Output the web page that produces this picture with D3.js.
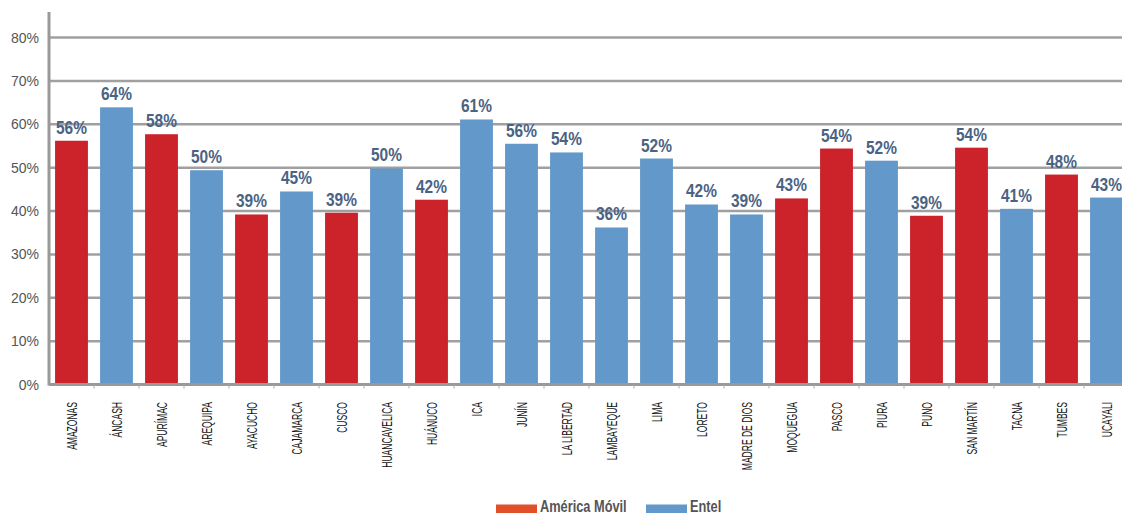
<!DOCTYPE html>
<html>
<head>
<meta charset="utf-8">
<script src="https://cdn.jsdelivr.net/npm/d3@7"></script>
<style>
	body { margin: 0; background: #fff; }
	svg { display: block; }
</style>
</head>
<body>
<svg id="chart" width="1122" height="514"></svg>
<script>
'use strict';

const regions = ['AMAZONAS', 'ÁNCASH', 'APURÍMAC', 'AREQUIPA', 'AYACUCHO', 'CAJAMARCA', 'CUSCO',
	'HUANCAVELICA', 'HUÁNUCO', 'ICA', 'JUNÍN', 'LA LIBERTAD', 'LAMBAYEQUE', 'LIMA', 'LORETO',
	'MADRE DE DIOS', 'MOQUEGUA', 'PASCO', 'PIURA', 'PUNO', 'SAN MARTÍN', 'TACNA', 'TUMBES', 'UCAYALI'];
const values = [56.2, 63.9, 57.7, 49.4, 39.2, 44.5, 39.6, 49.8, 42.6, 61.1, 55.5, 53.5, 36.2, 52.1,
	41.5, 39.2, 42.9, 54.4, 51.6, 38.9, 54.6, 40.5, 48.4, 43.1];
const labels = ['56%', '64%', '58%', '50%', '39%', '45%', '39%', '50%', '42%', '61%', '56%', '54%',
	'36%', '52%', '42%', '39%', '43%', '54%', '52%', '39%', '54%', '41%', '48%', '43%'];
const operators = ['A', 'E', 'A', 'E', 'A', 'E', 'A', 'E', 'A', 'E', 'E', 'E', 'E', 'E', 'E', 'E',
	'A', 'A', 'E', 'A', 'A', 'E', 'A', 'E'];
const legendNames = ['América Móvil', 'Entel'];
const yTicks = [0, 10, 20, 30, 40, 50, 60, 70, 80];

const barColour = { A: '#cc2229', E: '#6398ca' };
const legendColour = ['#e0502a', '#6398ca'];
const font = "'Liberation Sans', Arial, sans-serif";

const svg = d3.select('#chart');
const plotLeft = 49;
const plotRight = 1129;
const plotTop = 12;
const plotBottom = 384.5;

const x = d3.scaleBand()
	.domain(regions)
	.range([plotLeft, plotRight])
	.paddingInner(0.27)
	.paddingOuter(0.135);

const y = d3.scaleLinear()
	.domain([0, 80])
	.range([plotBottom, 37.5]);

// gridlines
svg.append('g')
	.selectAll('line')
	.data(yTicks.slice(1))
	.enter().append('line')
		.attr('x1', plotLeft)
		.attr('x2', 1122)
		.attr('y1', d => y(d))
		.attr('y2', d => y(d))
		.attr('stroke', '#a0a0a0')
		.attr('stroke-width', 2.5);

// y labels
svg.append('g')
	.selectAll('text')
	.data(yTicks)
	.enter().append('text')
		.attr('x', plotLeft - 10)
		.attr('y', d => y(d))
		.attr('dy', '0.36em')
		.attr('text-anchor', 'end')
		.attr('fill', '#555')
		.style('font-family', font)
		.style('font-size', '14px')
		.text(d => d + '%');

// bars
svg.append('g')
	.selectAll('rect')
	.data(regions)
	.enter().append('rect')
		.attr('x', d => x(d))
		.attr('width', x.bandwidth())
		.attr('y', (d, i) => y(values[i]))
		.attr('height', (d, i) => plotBottom - y(values[i]))
		.attr('fill', (d, i) => barColour[operators[i]]);

// value labels (squeezed to look condensed)
svg.append('g')
	.selectAll('text')
	.data(regions)
	.enter().append('text')
		.attr('transform', (d, i) => 'translate(' + (x(d) + x.bandwidth() / 2) + ',' + (y(values[i]) - 7) + ') scale(0.86,1)')
		.attr('text-anchor', 'middle')
		.attr('fill', '#4a6384')
		.style('font-family', font)
		.style('font-weight', 'bold')
		.style('font-size', '18px')
		.text((d, i) => labels[i]);

// axes
svg.append('line')
	.attr('x1', plotLeft).attr('x2', plotLeft)
	.attr('y1', plotTop).attr('y2', plotBottom + 1)
	.attr('stroke', '#999').attr('stroke-width', 3);
svg.append('line')
	.attr('x1', plotLeft).attr('x2', 1122)
	.attr('y1', plotBottom).attr('y2', plotBottom)
	.attr('stroke', '#999').attr('stroke-width', 3);

// small ticks between bands
const step = x.step();
svg.append('g')
	.selectAll('line')
	.data(regions)
	.enter().append('line')
		.attr('x1', d => x(d) - step * 0.135 + step)
		.attr('x2', d => x(d) - step * 0.135 + step)
		.attr('y1', plotBottom)
		.attr('y2', plotBottom + 4)
		.attr('stroke', '#aaa')
		.attr('stroke-width', 1);

// x labels
svg.append('g')
	.selectAll('text')
	.data(regions)
	.enter().append('text')
		.attr('transform', d => 'translate(' + (x(d) + x.bandwidth() / 2) + ',402) rotate(-90) scale(0.61,1)')
		.attr('dy', '0.36em')
		.attr('text-anchor', 'end')
		.attr('fill', '#111')
		.style('font-family', font)
		.style('font-size', '14px')
		.text(d => d);

// legend
const legend = svg.append('g');
const legendX = [496, 646];
legendNames.forEach((name, i) => {
	legend.append('rect')
		.attr('x', legendX[i])
		.attr('y', 504.5)
		.attr('width', 41)
		.attr('height', 8.5)
		.attr('fill', legendColour[i]);
	legend.append('text')
		.attr('transform', 'translate(' + (legendX[i] + 44) + ',512) scale(0.8,1)')
		.attr('fill', '#555')
		.style('font-family', font)
		.style('font-weight', 'bold')
		.style('font-size', '16px')
		.text(name);
});
</script>
</body>
</html>
